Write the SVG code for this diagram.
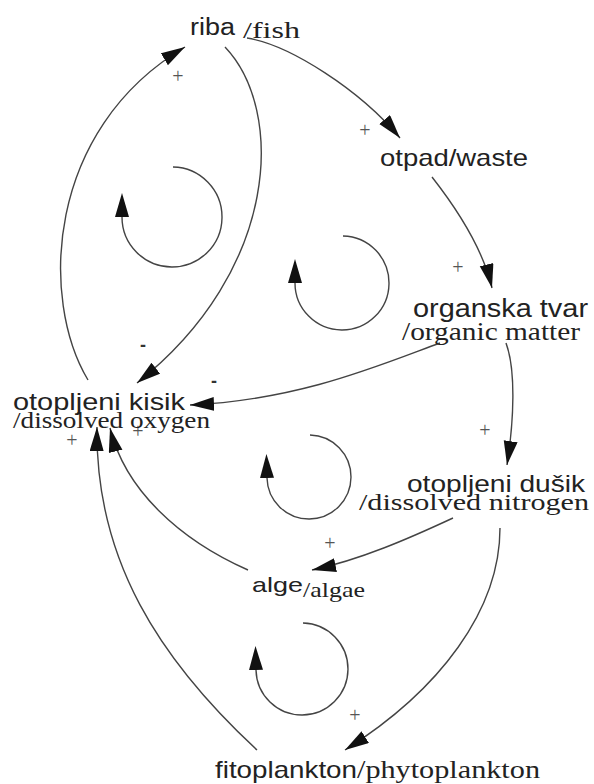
<svg xmlns="http://www.w3.org/2000/svg" width="594" height="784" viewBox="0 0 594 784">
<style>
.sans{font-family:"Liberation Sans",Arial,sans-serif;fill:#222}
.serif{font-family:"Liberation Serif","Times New Roman",serif;fill:#222}
.c{fill:none;stroke:#444;stroke-width:1.4}
.pl{font-family:"Liberation Serif",serif;font-size:20px;fill:#555;text-anchor:middle}
.mi{font-family:"Liberation Sans",sans-serif;font-size:18px;font-weight:bold;fill:#333;text-anchor:middle}
</style>
<defs>
<marker id="ah" markerUnits="userSpaceOnUse" markerWidth="26" markerHeight="16" refX="24" refY="7" orient="auto">
<path d="M0,0 L24,7 L0,14 z" fill="#111"/>
</marker>
<marker id="ahf" markerUnits="userSpaceOnUse" markerWidth="26" markerHeight="16" refX="0" refY="7" orient="auto">
<path d="M0,0 L24,7 L0,14 z" fill="#111"/>
</marker>
</defs>
<rect width="594" height="784" fill="#fff"/>
<g id="connectors">
<path class="c" d="M247,38 C290,45 360,90 400,138" marker-end="url(#ah)"/>
<path class="c" d="M432,177 C450,200 482,245 492,288" marker-end="url(#ah)"/>
<path class="c" d="M506,343 C516,370 514,420 507,465" marker-end="url(#ah)"/>
<path class="c" d="M440,343 C380,365 300,400 190,405" marker-end="url(#ah)"/>
<path class="c" d="M225,47 C285,110 280,270 137,383" marker-end="url(#ah)"/>
<path class="c" d="M88,380 C40,300 45,130 185,47" marker-end="url(#ah)"/>
<path class="c" d="M248,570 C180,540 125,490 110,428" marker-end="url(#ah)"/>
<path class="c" d="M257,750 C160,660 95,560 97,427" marker-end="url(#ah)"/>
<path class="c" d="M453,518 C410,538 360,560 312,570" marker-end="url(#ah)"/>
<path class="c" d="M500,528 C500,610 440,690 345,750" marker-end="url(#ah)"/>
<path class="c" d="M173,167 A50,50 0 1 1 122,217" marker-end="url(#ahf)"/>
<path class="c" d="M343,236 A47,47 0 1 1 295,283" marker-end="url(#ahf)"/>
<path class="c" d="M310,435 A42,42 0 1 1 267,478" marker-end="url(#ahf)"/>
<path class="c" d="M303,623 A46,46 0 1 1 256,670" marker-end="url(#ahf)"/>
</g>
<g id="labels">
<text class="pl" x="178" y="83">+</text>
<text class="pl" x="365" y="137">+</text>
<text class="pl" x="458" y="274">+</text>
<text class="mi" x="143" y="351">-</text>
<text class="mi" x="214" y="387">-</text>
<text class="pl" x="485" y="437">+</text>
<text class="pl" x="72" y="447">+</text>
<text class="pl" x="138" y="438">+</text>
<text class="pl" x="330" y="550">+</text>
<text class="pl" x="355" y="722">+</text>
</g>
<g id="riba">
<text class="sans" x="190" y="35" font-size="23" textLength="45" lengthAdjust="spacingAndGlyphs">riba</text>
<text class="serif" x="243" y="38" font-size="24" textLength="57" lengthAdjust="spacingAndGlyphs">/fish</text>
</g>
<g id="otpad">
<text class="sans" x="380" y="166" font-size="24" textLength="148" lengthAdjust="spacingAndGlyphs">otpad/waste</text>
</g>
<g id="organska">
<text class="sans" x="413" y="317" font-size="25" textLength="175" lengthAdjust="spacingAndGlyphs">organska tvar</text>
<text class="serif" x="402" y="340" font-size="25" textLength="178" lengthAdjust="spacingAndGlyphs">/organic matter</text>
</g>
<g id="kisik">
<text class="sans" x="13" y="410" font-size="24" textLength="172" lengthAdjust="spacingAndGlyphs">otopljeni kisik</text>
<text class="serif" x="13" y="428" font-size="23" textLength="197" lengthAdjust="spacingAndGlyphs">/dissolved oxygen</text>
</g>
<g id="dusik">
<text class="sans" x="407" y="492" font-size="24" textLength="178" lengthAdjust="spacingAndGlyphs">otopljeni dušik</text>
<text class="serif" x="359" y="510" font-size="24" textLength="230" lengthAdjust="spacingAndGlyphs">/dissolved nitrogen</text>
</g>
<g id="alge">
<text class="sans" x="252" y="592" font-size="21" textLength="51" lengthAdjust="spacingAndGlyphs">alge</text>
<text class="serif" x="303" y="597" font-size="21" textLength="62" lengthAdjust="spacingAndGlyphs">/algae</text>
</g>
<g id="fitoplankton">
<text class="sans" x="215" y="778" font-size="24" textLength="142" lengthAdjust="spacingAndGlyphs">fitoplankton</text>
<text class="serif" x="357" y="778" font-size="25" textLength="183" lengthAdjust="spacingAndGlyphs">/phytoplankton</text>
</g>
</svg>
